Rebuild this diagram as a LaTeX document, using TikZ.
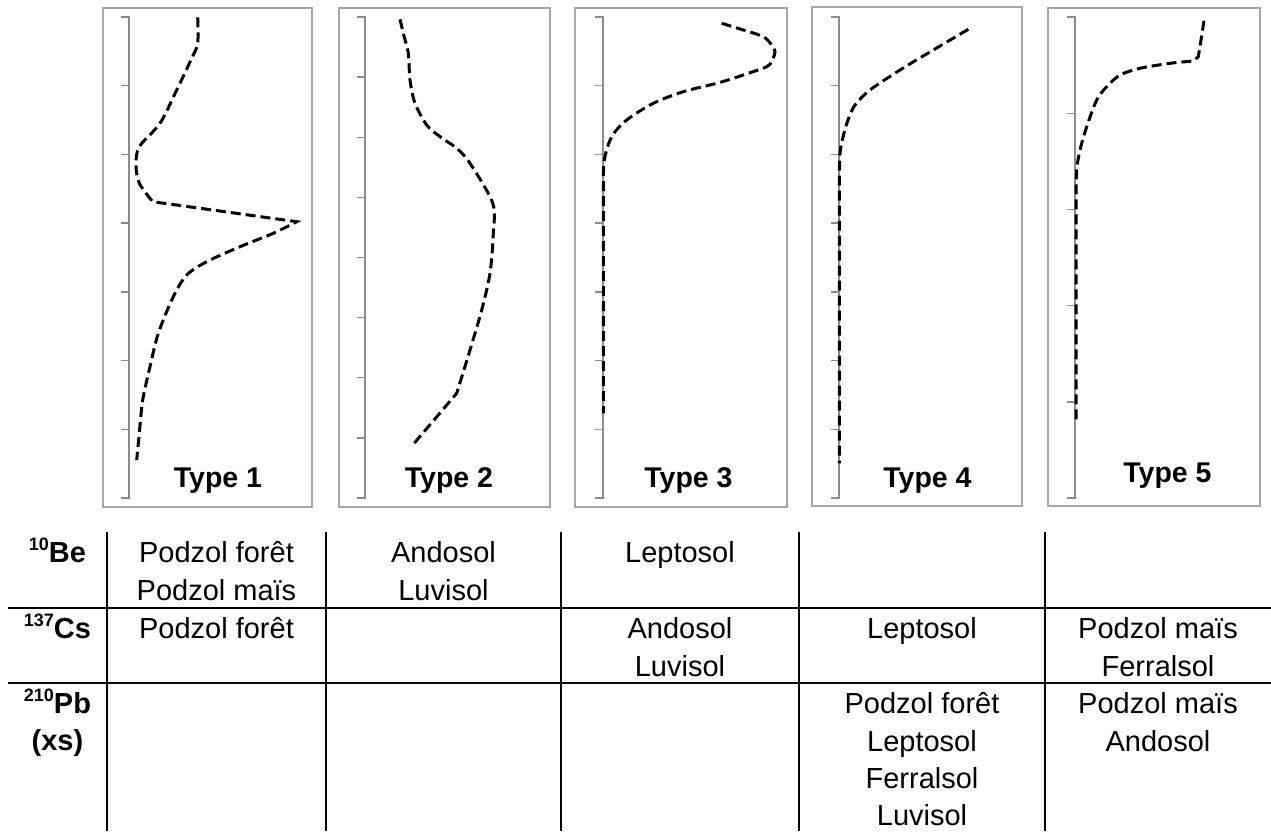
\documentclass[tikz,border=0pt]{standalone}
\usepackage{fontspec}
\setmainfont{Liberation Sans}
\definecolor{boxgray}{HTML}{A6A6A6}
\definecolor{axisgray}{HTML}{8C8C8C}
\newcommand\myaxis[3]{% #1 = x of axis, #2 = number of intervals, #3 = intervals minus one
  \draw[axisline] ({#1-8},17) -- (#1,17) -- (#1,498) -- ({#1-8},498);
  \foreach \k in {1,...,#3}{\draw[axisline] ({#1-8},{17+481/#2*\k}) -- (#1,{17+481/#2*\k});}
}
\begin{document}
\begin{tikzpicture}[x=1pt,y=-1pt,
  panel/.style={draw=boxgray, line width=1.5pt},
  axisline/.style={draw=axisgray, line width=1.4pt},
  profile/.style={line width=3pt, dash pattern=on 10pt off 5pt},
  gridline/.style={line width=2pt},
  cell/.style={font=\fontsize{29}{35}\selectfont, anchor=base, inner sep=0pt},
  rowlab/.style={font=\bfseries\fontsize{29}{35}\selectfont, anchor=base, inner sep=0pt},
  typelab/.style={font=\bfseries\fontsize{28.5}{34}\selectfont, anchor=base, inner sep=0pt}]
\useasboundingbox (0,0) rectangle (1271,831);
\newcommand\sups[1]{\raisebox{11.5pt}{\fontsize{18}{18}\selectfont\bfseries #1}}

% panels
\draw[panel] (103,8) rectangle (312,507);
\draw[panel] (339,8) rectangle (550,507);
\draw[panel] (575,8) rectangle (787,507);
\draw[panel] (812,7) rectangle (1022,506);
\draw[panel] (1048,8) rectangle (1260,506);

% axes
\myaxis{129}{7}{6}
\myaxis{365}{8}{7}
\myaxis{603}{7}{6}
\myaxis{839}{7}{6}
\myaxis{1075}{5}{4}

% profiles
\draw[profile] plot[smooth] coordinates {(197.7,17.3) (197.7,43.3) (191.7,58.3) (176.7,90) (160,123.3) (139.3,146.7) (136,165) (139.3,183.3) (152.7,201.7)}
  -- (296.7,221.7)
  -- plot[smooth] coordinates {(296.7,221.7) (273.3,233.3) (240,246.7) (206.7,261.7) (186.7,275) (173.3,296.7) (158.3,333.3) (150,366.7) (142.7,400) (139.3,433.3) (136.7,460)};

\draw[profile] plot[smooth] coordinates {(400,19.3) (403.3,33.3) (408.3,53.3) (410,80) (415,103.3) (426.7,125) (440,136.7) (456.7,148.3) (470,163.3) (492.7,203) (493.3,233.3) (490,273.3) (481.7,310) (470,350) (456.7,393.3)}
  -- (412.7,445);

\draw[profile] plot[smooth] coordinates {(721.7,23.3) (743.3,30) (763.3,36.7) (771.7,45) (775,51.7) (771.7,61.7) (766.7,66.7) (750,72.7) (733.3,78.3) (716.7,83.3) (683.3,91.7) (653.3,103.3) (626.7,120) (611.7,136.7) (604.3,160) (603.3,186.7)}
  -- (603.3,413.3);

\draw[profile] plot[smooth] coordinates {(968.3,29.3) (933.3,50) (900,70) (870,90) (855,105) (848,120) (843,137) (840,153.3) (839.3,180)}
  -- (839.3,463.3);

\draw[profile] plot[smooth] coordinates {(1204,20.7) (1201,40) (1198.3,56.7)}
  -- (1193.3,61)
  -- plot[smooth] coordinates {(1193.3,61) (1170,63.3) (1140,68.3) (1120,75) (1106.7,86.7) (1096.7,100) (1086.7,126.7) (1080,150) (1076.7,170) (1076,200)}
  -- (1076,421.7);

% type labels
\node[typelab] (t1) at (218,487) {Type 1};
\node[typelab] (t2) at (449,487) {Type 2};
\node[typelab] (t3) at (688.5,487) {Type 3};
\node[typelab] (t4) at (927.5,487) {Type 4};
\node[typelab] (t5) at (1167.5,482) {Type 5};

% table grid
\foreach \x in {107,326,561,799,1045}{\draw[gridline] (\x,532) -- (\x,831);}
\draw[gridline] (8,608) -- (1271,608);
\draw[gridline] (8,683) -- (1271,683);

% row labels
\node[rowlab] (lbe) at (57.5,562) {\sups{10}Be};
\node[rowlab] (lcs) at (57.5,638) {\sups{137}Cs};
\node[rowlab] (lpb) at (57.5,713) {\sups{210}Pb};
\node[rowlab] (lxs) at (57.5,750) {(xs)};

% row 1
\node[cell] (a11) at (216.5,562) {Podzol forêt};
\node[cell] (a12) at (216.5,600) {Podzol maïs};
\node[cell] (b11) at (443.5,562) {Andosol};
\node[cell] (b12) at (443.5,600) {Luvisol};
\node[cell] (c11) at (680,562) {Leptosol};
% row 2
\node[cell] (a21) at (216.5,638) {Podzol forêt};
\node[cell] (c21) at (680,638) {Andosol};
\node[cell] (c22) at (680,676) {Luvisol};
\node[cell] (d21) at (922,638) {Leptosol};
\node[cell] (e21) at (1158,638) {Podzol maïs};
\node[cell] (e22) at (1158,676) {Ferralsol};
% row 3
\node[cell] (d31) at (922,713) {Podzol forêt};
\node[cell] (d32) at (922,751) {Leptosol};
\node[cell] (d33) at (922,788) {Ferralsol};
\node[cell] (d34) at (922,825) {Luvisol};
\node[cell] (e31) at (1158,713) {Podzol maïs};
\node[cell] (e32) at (1158,751) {Andosol};
\end{tikzpicture}
\end{document}
